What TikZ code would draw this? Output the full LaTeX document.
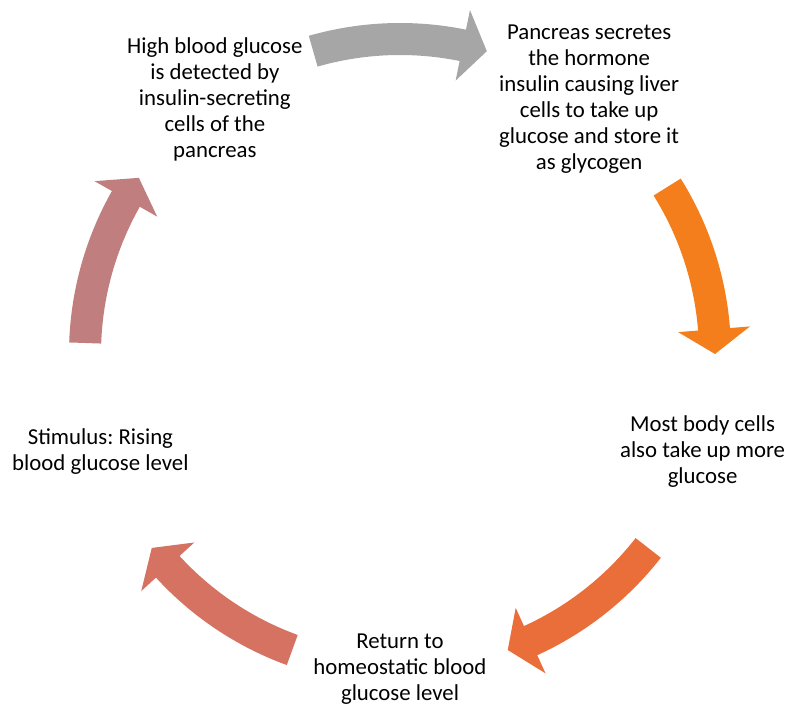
\documentclass[tikz,border=0pt]{standalone}
\usepackage{fontspec}
\setmainfont{Carlito}
\usetikzlibrary{calc}
\frenchspacing
\definecolor{arrowgray}{RGB}{166,166,166}
\definecolor{arroworange}{RGB}{245,126,28}
\definecolor{arrowcoral}{RGB}{234,110,58}
\definecolor{arrowsalmon}{RGB}{214,114,98}
\definecolor{arrowrose}{RGB}{192,126,126}
\tikzset{
  cyctext/.style={align=center,inner sep=2pt,
    font=\fontsize{22.8}{26}\selectfont},
  blockarrow/.style={draw=none}
}

\begin{document}
\begin{tikzpicture}[x=1pt,y=1pt]
  \useasboundingbox (0,0) rectangle (791,707);
  \coordinate (hub) at (400,353);

  % curved block arrows between the steps
  \foreach \mid/\col in {90/arrowgray,16/arroworange,-54/arrowcoral,
      -126/arrowsalmon,162/arrowrose}{
    \pgfmathsetmacro\tailang{\mid+16}
    \pgfmathsetmacro\baseang{\mid-11.5}
    \pgfmathsetmacro\tipang{\mid-16}
    \fill[blockarrow,\col]
      ($(hub)+(\tailang:331)$) arc[start angle=\tailang,end angle=\baseang,radius=331]
      -- ($(hub)+(\baseang:351)$) -- ($(hub)+(\tipang:315)$)
      -- ($(hub)+(\baseang:279)$) -- ($(hub)+(\baseang:299)$)
      arc[start angle=\baseang,end angle=\tailang,radius=299] -- cycle;
  }

  \node[cyctext] (detect) at ($(hub)+(126:315)$) {
    High blood glucose\\is detected by\\insulin-secreting\\cells of the\\pancreas};
  \node[cyctext] (secrete) at ($(hub)+(54:315)+(4,0)$) {
    Pancreas secretes\\the hormone\\insulin causing liver\\cells to take up\\
    glucose and store it\\as glycogen};
  \node[cyctext] (uptake) at ($(hub)+(-18:315)+(3,0)$) {
    Most body cells\\also take up more\\glucose};
  \node[cyctext] (restore) at ($(hub)+(-90:315)$) {
    Return to\\homeostatic blood\\glucose level};
  \node[cyctext] (stimulus) at ($(hub)+(198:315)$) {
    Stimulus: Rising\\blood glucose level};
\end{tikzpicture}
\end{document}
